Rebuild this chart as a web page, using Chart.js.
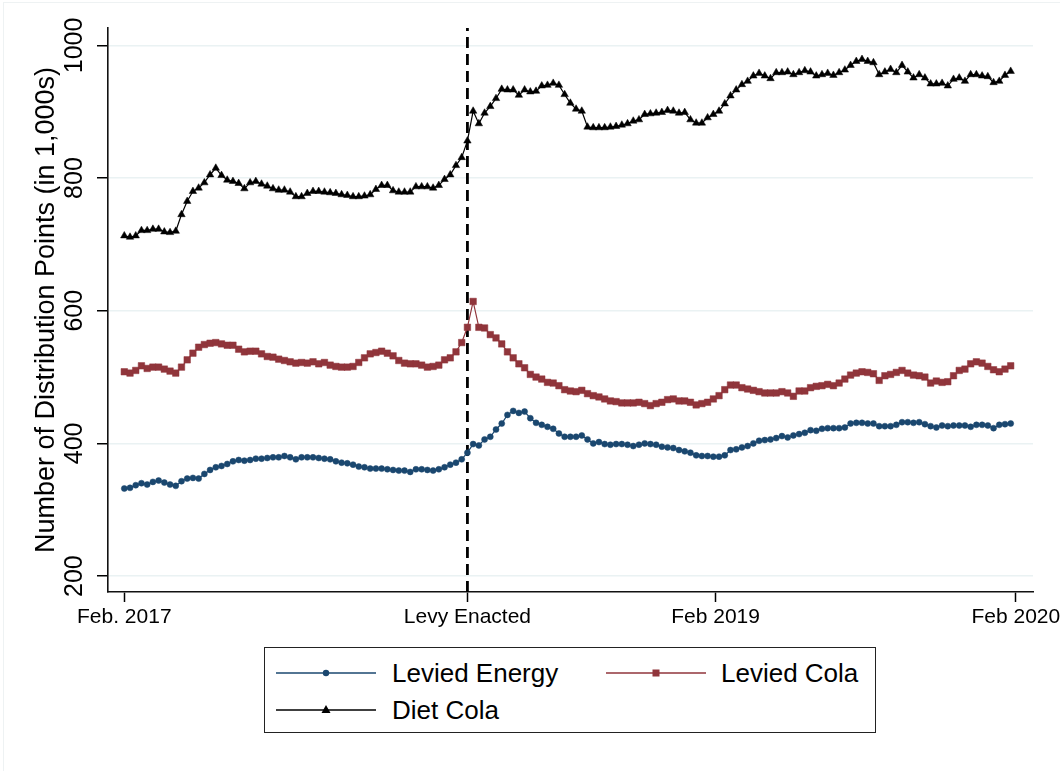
<!DOCTYPE html>
<html>
<head>
<meta charset="utf-8">
<title>Distribution points</title>
<script src="https://cdn.jsdelivr.net/npm/chart.js@4.4.1/dist/chart.umd.min.js"></script>
<style>
  html, body { margin: 0; padding: 0; background: #fff; }
  #wrap { position: relative; width: 1060px; height: 771px; overflow: hidden; }
  #frame { position: absolute; left: 3px; top: 2px; right: 0; bottom: 0;
           border-top: 1px solid #eef2f3; border-left: 1px solid #eef2f3; pointer-events: none; }
  #legend { position: absolute; left: 264px; top: 647px; width: 612px; height: 86px;
            box-sizing: border-box; border: 1.5px solid #222; background: #fff;
            font-family: "Liberation Sans", Arial, sans-serif; font-size: 26px; color: #000; }
  .item { position: absolute; height: 30px; }
  .item svg { position: absolute; left: 0; top: 8px; }
  .item span { position: absolute; top: 0; white-space: nowrap; line-height: 30px; }
</style>
</head>
<body>
<div id="wrap">
  <canvas id="chart" width="1060" height="771"></canvas>
  <div id="frame"></div>
  <div id="legend">
    <div class="item" style="left:10px; top:10px;">
      <svg width="102" height="14"><line x1="1" y1="7" x2="101" y2="7" stroke="#1a476f" stroke-width="1.3"/><circle cx="51" cy="7" r="3.2" fill="#1a476f"/></svg>
      <span style="left:117px;">Levied Energy</span>
    </div>
    <div class="item" style="left:340px; top:10px;">
      <svg width="102" height="14"><line x1="1" y1="7" x2="101" y2="7" stroke="#90353b" stroke-width="1.3"/><rect x="47.5" y="3.5" width="7" height="7" fill="#90353b"/></svg>
      <span style="left:116px;">Levied Cola</span>
    </div>
    <div class="item" style="left:10px; top:47px;">
      <svg width="102" height="14"><line x1="1" y1="7" x2="101" y2="7" stroke="#000" stroke-width="1.3"/><polygon points="51,2 55.5,10 46.5,10" fill="#000"/></svg>
      <span style="left:117px;">Diet Cola</span>
    </div>
  </div>
</div>
<script>
// weekly values, Feb 2017 .. Feb 2020 (distribution points, 1,000s)
const leviedEnergy = [
  332, 333, 337, 340, 338, 342, 344, 341, 338, 336,
  343, 347, 348, 347, 354, 360, 364, 366, 369, 373,
  375, 374, 375, 377, 377, 378, 379, 379, 381, 379,
  376, 379, 379, 379, 378, 377, 376, 373, 371, 370,
  368, 365, 364, 362, 362, 362, 361, 360, 359, 359,
  357, 361, 361, 360, 359, 361, 364, 368, 371, 376,
  386, 399, 397, 406, 410, 421, 430, 443, 449, 446,
  448, 438, 431, 428, 425, 422, 415, 410, 410, 410,
  412, 406, 400, 402, 399, 398, 399, 399, 398, 396,
  398, 400, 399, 398, 395, 394, 393, 390, 388, 386,
  382, 381, 381, 380, 380, 382, 390, 391, 394, 396,
  400, 404, 405, 406, 408, 411, 409, 412, 414, 416,
  420, 419, 422, 423, 423, 423, 424, 430, 431, 431,
  430, 430, 426, 426, 426, 428, 432, 432, 431, 432,
  429, 426, 424, 427, 426, 427, 427, 427, 425, 428,
  428, 427, 423, 428, 429, 430
];
const leviedCola = [
  508, 506, 510, 517, 513, 515, 515, 512, 509, 506,
  515, 526, 536, 545, 549, 551, 552, 550, 548, 548,
  542, 538, 539, 539, 535, 531, 530, 527, 525, 523,
  521, 522, 521, 523, 520, 522, 518, 516, 515, 515,
  516, 522, 529, 535, 537, 539, 536, 532, 525, 521,
  520, 520, 518, 515, 516, 518, 526, 529, 538, 552,
  575, 614, 575, 574, 564, 559, 550, 538, 529, 520,
  514, 504, 500, 497, 492, 491, 487, 481, 479, 478,
  480, 475, 472, 470, 467, 464, 463, 461, 461, 461,
  462, 460, 457, 460, 462, 466, 467, 464, 464, 462,
  458, 460, 462, 467, 472, 481, 488, 488, 484, 482,
  480, 478, 476, 476, 476, 478, 476, 471, 479, 479,
  484, 486, 487, 489, 487, 491, 497, 503, 506, 508,
  507, 505, 495, 502, 504, 507, 510, 506, 503, 502,
  500, 491, 494, 492, 493, 502, 510, 512, 520, 523,
  521, 516, 511, 508, 512, 517
];
const dietCola = [
  713, 711, 713, 721, 721, 723, 723, 719, 718, 720,
  745, 765, 780, 785, 793, 805, 815, 804, 797, 795,
  792, 784, 793, 795, 791, 788, 784, 782, 782, 779,
  772, 772, 777, 780, 780, 779, 778, 777, 775, 774,
  772, 772, 773, 775, 783, 789, 789, 781, 779, 779,
  779, 787, 787, 787, 785, 789, 798, 805, 819, 831,
  856, 901, 882, 898, 908, 920, 934, 933, 933, 925,
  933, 930, 931, 939, 940, 943, 940, 926, 913, 904,
  901, 877, 876, 876, 876, 877, 878, 880, 882, 886,
  888, 896, 897, 898, 899, 902, 901, 898, 899, 888,
  883, 883, 891, 896, 901, 912, 924, 933, 941, 946,
  954, 958, 954, 950, 959, 959, 960, 956, 959, 962,
  960, 954, 956, 958, 955, 959, 963, 970, 976, 979,
  976, 974, 956, 960, 964, 959, 970, 960, 951, 956,
  951, 942, 942, 943, 939, 949, 951, 946, 956, 956,
  954, 953, 944, 946, 955, 961
];

// x axis: week number counted from the first week of Feb 2017
const xTickWeeks = [0, 60, 103.4, 155.9];
const xTickLabels = ['Feb. 2017', 'Levy Enacted', 'Feb 2019', 'Feb 2020'];
const levyWeek = 60;
const yTicks = [200, 400, 600, 800, 1000];
const yMin = 176;
const yMax = 1026.2;

const FONT = '"Liberation Sans", Arial, sans-serif';

function toPoints(values) {
    return values.map((v, i) => ({ x: i, y: v }));
}

function seriesStyle(color, pointStyle, radius) {
    return {
        borderColor: color,
        backgroundColor: color,
        borderWidth: 1.2,
        pointStyle: pointStyle,
        pointRadius: radius,
        pointBorderWidth: 0.5,
        pointBorderColor: color,
        pointBackgroundColor: color,
        tension: 0,
        fill: false
    };
}

const datasets = [
    { label: 'Levied Energy', data: toPoints(leviedEnergy), ...seriesStyle('#1a476f', 'circle', 3), order: 1 },
    { label: 'Levied Cola', data: toPoints(leviedCola), ...seriesStyle('#90353b', 'rect', 4.6), order: 2 },
    { label: 'Diet Cola', data: toPoints(dietCola), ...seriesStyle('#000000', 'triangle', 4.3), order: 3 },
    {
        label: 'levy',
        data: [{ x: levyWeek, y: yMin }, { x: levyWeek, y: yMax }],
        borderColor: '#000',
        borderWidth: 2.8,
        borderDash: [11, 6],
        pointRadius: 0,
        order: 4
    }
];

new Chart(document.getElementById('chart'), {
    type: 'line',
    data: { datasets: datasets },
    options: {
        responsive: false,
        animation: false,
        events: [],
        layout: { padding: { top: 28, right: 27, bottom: 0, left: 0 } },
        plugins: {
            legend: { display: false },
            tooltip: { enabled: false }
        },
        scales: {
            x: {
                type: 'linear',
                min: -2.85,
                max: 158.9,
                afterBuildTicks: (scale) => {
                    scale.ticks = xTickWeeks.map(v => ({ value: v }));
                },
                afterFit: (scale) => {
                    scale.height = 179;
                    scale.paddingLeft = 0;
                    scale.paddingRight = 0;
                },
                ticks: {
                    autoSkip: false,
                    maxRotation: 0,
                    padding: 3,
                    color: '#000',
                    font: { family: FONT, size: 21 },
                    callback: (value, index) => xTickLabels[index]
                },
                grid: {
                    drawOnChartArea: false,
                    tickLength: 10,
                    tickColor: '#000',
                    tickWidth: 1.5
                },
                border: { color: '#111', width: 1.6 }
            },
            y: {
                min: yMin,
                max: yMax,
                afterBuildTicks: (scale) => {
                    scale.ticks = yTicks.map(v => ({ value: v }));
                },
                afterFit: (scale) => {
                    scale.width = 108;
                    scale.paddingTop = 0;
                    scale.paddingBottom = 0;
                },
                ticks: {
                    autoSkip: false,
                    minRotation: 90,
                    maxRotation: 90,
                    crossAlign: 'center',
                    padding: -6,
                    color: '#000',
                    font: { family: FONT, size: 25 },
                    callback: (value) => String(value)
                },
                grid: {
                    color: '#eaf2f3',
                    lineWidth: 1.5,
                    tickLength: 11,
                    tickColor: '#000',
                    tickWidth: 1.5
                },
                border: { color: '#111', width: 1.6 },
                title: {
                    display: true,
                    text: 'Number of Distribution Points (in 1,000s)',
                    color: '#000',
                    font: { family: FONT, size: 27, lineHeight: 1 },
                    padding: { top: 33, bottom: 0 }
                }
            }
        }
    }
});
</script>
</body>
</html>
